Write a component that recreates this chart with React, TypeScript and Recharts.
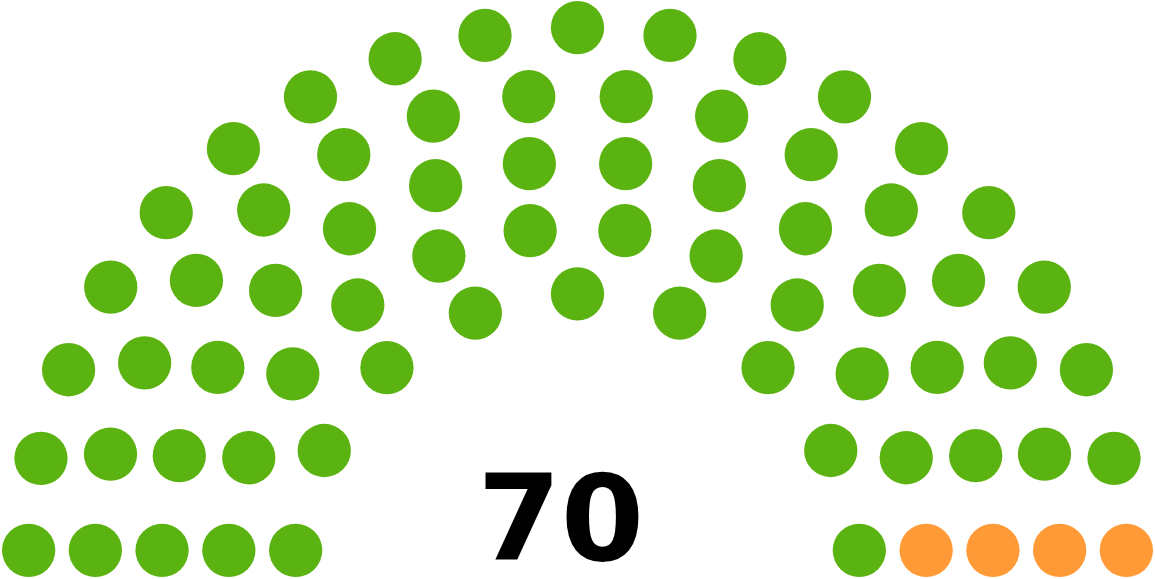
import { ScatterChart, Scatter, XAxis, YAxis } from "recharts";

const partyNames = ["Party A", "Party B"];
const partySeats = [66, 4];
const partyColors = ["#5bb311", "#ff9a36"];
const totalLabel = "70";

const W = 1155;
const H = 579;
const M = { top: 1, right: 2, bottom: 2, left: 2 };

// arch layout (same rules as the usual parliament-diagram tool), units of the svg it draws
const TOTALS = [3, 15, 33, 61, 95, 138, 189, 247, 313, 388];

function layout(total: number) {
  let rows = 1;
  for (let i = 0; i < TOTALS.length; i++) {
    if (TOTALS[i] >= total) {
      rows = i + 1;
      break;
    }
  }
  const radius = 0.4 / rows;
  const pos: { a: number; x: number; y: number }[] = [];
  const arc = (J: number, R: number) => {
    if (J === 1) {
      pos.push({ a: Math.PI / 2, x: 1.75, y: R });
      return;
    }
    for (let j = 0; j < J; j++) {
      const a0 = Math.sin(radius / R);
      const a = (j * (Math.PI - 2 * a0)) / (J - 1) + a0;
      pos.push({ a, x: R * Math.cos(a) + 1.75, y: R * Math.sin(a) });
    }
  };
  for (let i = 1; i < rows; i++) {
    const J = Math.floor(
      (total / TOTALS[rows - 1]) * Math.PI / (2 * Math.asin(2 / (3 * rows + 4 * i - 2)))
    );
    arc(J, (3 * rows + 4 * i - 2) / (4 * rows));
  }
  arc(total - pos.length, (7 * rows - 2) / (4 * rows));
  pos.sort((p, q) => q.a - p.a || q.x - p.x);
  return {
    radius: radius * 100,
    seats: pos.map((p) => ({ x: p.x * 100 + 5, y: 100 * (1.75 - p.y) + 5 })),
  };
}

const total = partySeats.reduce((s, v) => s + v, 0);
const { radius, seats } = layout(total);

const xMin = Math.min(...seats.map((s) => s.x)) - radius;
const xMax = Math.max(...seats.map((s) => s.x)) + radius;
const yMin = Math.min(...seats.map((s) => s.y)) - radius;
const yMax = Math.max(...seats.map((s) => s.y)) + radius;
const scale = (W - M.left - M.right) / (xMax - xMin);

let start = 0;
const partyData = partySeats.map((n) => {
  const d = seats.slice(start, start + n);
  start += n;
  return d;
});

export default function App() {
  return (
    <div style={{ position: "absolute", left: 0, top: 0, background: "#fff" }}>
      <ScatterChart width={W} height={H} margin={M}>
        <XAxis type="number" dataKey="x" domain={[xMin, xMax]} hide />
        <YAxis type="number" dataKey="y" domain={[yMin, yMax]} reversed hide />
        {partyData.map((d, i) => (
          <Scatter
            key={partyNames[i]}
            name={partyNames[i]}
            data={d}
            isAnimationActive={false}
            shape={(p: any) => (
              <circle cx={p.cx} cy={p.cy} r={radius * scale} fill={partyColors[i]} />
            )}
          />
        ))}
        <Scatter
          data={[{ x: 175, y: 175 }]}
          isAnimationActive={false}
          shape={(p: any) => (
            <text
              x={p.cx}
              y={p.cy}
              textAnchor="middle"
              style={{
                fontSize: 36 * scale,
                fontWeight: "bold",
                fontFamily: "DejaVu Sans, sans-serif",
                fill: "#000",
              }}
            >
              {totalLabel}
            </text>
          )}
        />
      </ScatterChart>
    </div>
  );
}
